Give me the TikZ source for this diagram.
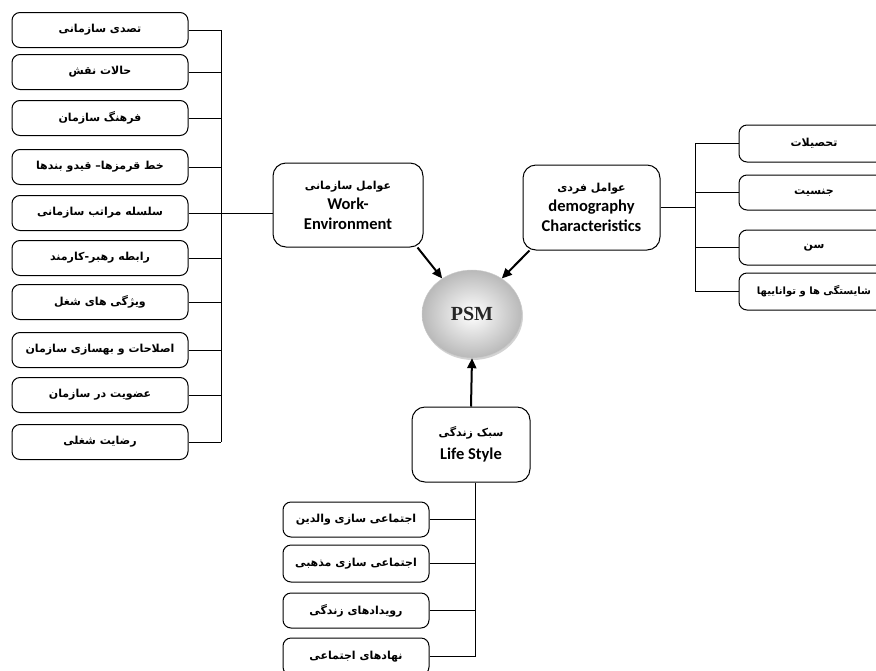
\documentclass[tikz,border=0pt]{standalone}
\usepackage{fontspec}
\setmainfont{Carlito}
\newfontfamily\fafont[Script=Arabic]{DejaVu Sans}
\newfontfamily\psmfont{Liberation Serif}
\TeXXeTstate=1
\usetikzlibrary{shapes.geometric,shadows,arrows.meta}
\newcommand{\fa}[1]{{\fafont\bfseries\beginR #1\endR}}

\begin{document}
\begin{tikzpicture}[x=1pt,y=-1pt,
    item/.style={draw,line width=1pt,rounded corners=8pt,minimum width=176pt,minimum height=35pt,inner sep=0pt,font=\fontsize{11}{13}\selectfont},
    factor/.style={draw,line width=1pt,rounded corners=13pt,align=center,inner sep=0pt,font=\fontsize{16.5}{20}\selectfont\bfseries},
    link/.style={line width=1pt},
    push/.style={line width=2pt,-{Triangle[length=10pt,width=9pt]}}]
    \useasboundingbox (0,0) rectangle (876,670);
    \clip (0,0) rectangle (876,670);

    \node[item] (l1) at (100,30) {\fa{تصدی سازمانی}};
    \node[item] (l2) at (100,72) {\fa{حالات نقش}};
    \node[item] (l3) at (100,118) {\fa{فرهنگ سازمان}};
    \node[item] (l4) at (100,167) {\fa{خط قرمزها– قیدو بندها}};
    \node[item] (l5) at (100,213) {\fa{سلسله مراتب سازمانی}};
    \node[item] (l6) at (100,258) {\fa{رابطه رهبر-کارمند}};
    \node[item] (l7) at (100,302) {\fa{ویژگی های شغل}};
    \node[item] (l8) at (100,350) {\fa{اصلاحات و بهسازی سازمان}};
    \node[item] (l9) at (100,395) {\fa{عضویت در سازمان}};
    \node[item] (l10) at (100,442) {\fa{رضایت شغلی}};

    \node[factor,minimum width=150pt,minimum height=84pt] (we) at (348,205)
        {{\fontsize{11}{13}\selectfont\fa{عوامل سازمانی}}\\Work-\\Environment};
    \node[factor,minimum width=137pt,minimum height=85pt] (dc) at (591.5,207.5)
        {{\fontsize{11}{13}\selectfont\fa{عوامل فردی}}\\demography\\Characteristics};
    \node[factor,minimum width=118pt,minimum height=75pt] (ls) at (471,444.5)
        {{\fontsize{11}{13}\selectfont\fa{سبک زندگی}}\\[3pt]Life Style};

    \node[ellipse,draw=gray!40,minimum width=100pt,minimum height=88pt,inner sep=0pt,
        inner color=white,outer color=gray!55,
        drop shadow={opacity=0.35,shadow xshift=1pt,shadow yshift=-2pt},
        font=\psmfont\fontsize{20}{24}\selectfont\bfseries,text=black!85] (psm) at (472,314) {PSM};

    \node[item,minimum width=150pt,minimum height=37pt] (r1) at (814,143.5) {\fa{تحصیلات}};
    \node[item,minimum width=150pt] (r2) at (814,192.5) {\fa{جنسیت}};
    \node[item,minimum width=150pt] (r3) at (814,247.5) {\fa{سن}};
    \node[item,minimum width=150pt,minimum height=37pt,font=\fontsize{10}{12}\selectfont] (r4) at (814,291.5) {\fa{شایستگی ها و تواناییها}};

    \node[item,minimum width=146pt] (b1) at (356,519.5) {\fa{اجتماعی سازی والدین}};
    \node[item,minimum width=146pt,minimum height=37pt] (b2) at (356,563.5) {\fa{اجتماعی سازی مذهبی}};
    \node[item,minimum width=146pt] (b3) at (356,610.5) {\fa{رویدادهای زندگی}};
    \node[item,minimum width=146pt,minimum height=37pt] (b4) at (356,656.5) {\fa{نهادهای اجتماعی}};

    \coordinate (lt) at (221,0);
    \coordinate (rt) at (695,0);
    \coordinate (bt) at (475,0);

    \draw[link] (l1.east) -- (l1.east -| lt);
    \draw[link] (l2.east) -- (l2.east -| lt);
    \draw[link] (l3.east) -- (l3.east -| lt);
    \draw[link] (l4.east) -- (l4.east -| lt);
    \draw[link] (l5.east) -- (l5.east -| we.west);
    \draw[link] (l6.east) -- (l6.east -| lt);
    \draw[link] (l7.east) -- (l7.east -| lt);
    \draw[link] (l8.east) -- (l8.east -| lt);
    \draw[link] (l9.east) -- (l9.east -| lt);
    \draw[link] (l10.east) -- (l10.east -| lt);
    \draw[link] (l1.east -| lt) -- (l10.east -| lt);

    \draw[link] (dc.east) -- (dc.east -| rt);
    \draw[link] (r1.west) -- (r1.west -| rt);
    \draw[link] (r2.west) -- (r2.west -| rt);
    \draw[link] (r3.west) -- (r3.west -| rt);
    \draw[link] (r4.west) -- (r4.west -| rt);
    \draw[link] (r1.west -| rt) -- (r4.west -| rt);

    \draw[link] (ls.south -| bt) -- (b4.east -| bt);
    \draw[link] (b1.east) -- (b1.east -| bt);
    \draw[link] (b2.east) -- (b2.east -| bt);
    \draw[link] (b3.east) -- (b3.east -| bt);
    \draw[link] (b4.east) -- (b4.east -| bt);

    \draw[push] ([xshift=-6pt]we.south east) -- (psm.130);
    \draw[push] ([xshift=7pt]dc.south west) -- (psm.50);
    \draw[push] (ls.north) -- (psm.south);
\end{tikzpicture}
\end{document}
